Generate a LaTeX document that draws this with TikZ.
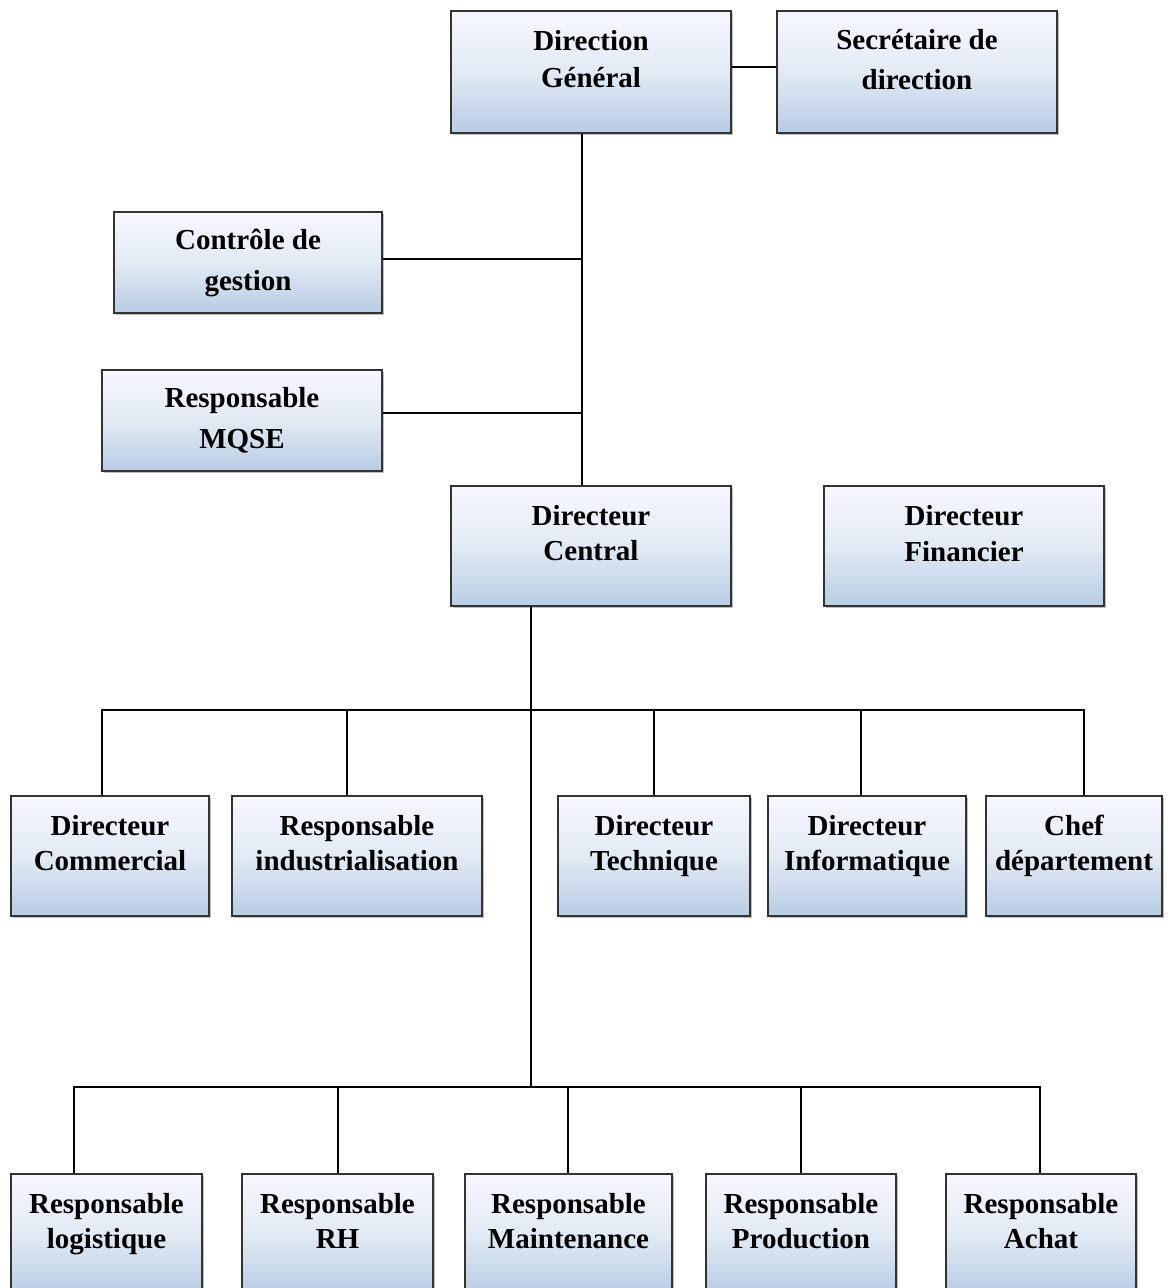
\documentclass[tikz,border=0pt]{standalone}
\usepackage{fontspec}
\setmainfont{Liberation Serif}
\usetikzlibrary{calc,shadows}
\begin{document}
\begin{tikzpicture}[x=1pt,y=1pt,
  box/.style={draw=black!80, line width=1.6pt, top color=white!92!blue!40!white, bottom color={rgb,255:red,184;green,204;blue,228}, middle color={rgb,255:red,226;green,234;blue,244}, shading angle=0, inner sep=0pt, drop shadow={shadow xshift=2pt, shadow yshift=-2pt, opacity=0.25, fill=black}},
  txt/.style={anchor=base, font=\fontsize{29}{36}\selectfont\bfseries, inner sep=0pt},
  ln/.style={line width=1.5pt, black}]
\useasboundingbox (0,0) rectangle (1173,-1288);
\clip (0,0) rectangle (1173,-1288);
% boxes: \bx[baseline1,baseline2]{name}{left}{top}{right}{bottom}{line1}{line2}
\newcommand\bx[7][40/75]{%
  \node[box, minimum width=#4-#2, minimum height=#5-#3] (#2) at ({(#3+#5)/2},{-(#4+#6)/2}) {};
  \foreach \ba/\bb in {#1} {%
    \node[txt] at ($(#2.north)+(0,-\ba)$) {#7};}}
\newcommand\bxtwo[8][40/75]{%
  \node[box, minimum width=#5-#3, minimum height=#6-#4] (#2) at ({(#3+#5)/2},{-(#4+#6)/2}) {};
  \foreach \ba/\bb in {#1} {%
    \node[txt] at ($(#2.north)+(0,-\ba)$) {#7};
    \node[txt] at ($(#2.north)+(0,-\bb)$) {#8};}}
\bxtwo[40/77]{dg}{451}{11}{731}{133}{Direction}{Général}
\bxtwo[39/79]{sec}{777}{11}{1057}{133}{Secrétaire de}{direction}
\bxtwo[38/79]{cg}{114}{212}{382}{313}{Contrôle de}{gestion}
\bxtwo[38/79]{mqse}{102}{370}{382}{471}{Responsable}{MQSE}
\bxtwo{dc}{451}{486}{731}{606}{Directeur}{Central}
\bxtwo[40/76]{df}{824}{486}{1104}{606}{Directeur}{Financier}
\bxtwo{dcom}{11}{796}{209}{916}{Directeur}{Commercial}
\bxtwo{rind}{232}{796}{482}{916}{Responsable}{industrialisation}
\bxtwo{dtech}{558}{796}{750}{916}{Directeur}{Technique}
\bxtwo{dinf}{768}{796}{966}{916}{Directeur}{Informatique}
\bxtwo{chef}{986}{796}{1162}{916}{Chef}{département}
\bxtwo{rlog}{11}{1174}{202}{1294}{Responsable}{logistique}
\bxtwo{rrh}{242}{1174}{433}{1294}{Responsable}{RH}
\bxtwo{rmai}{465}{1174}{672}{1294}{Responsable}{Maintenance}
\bxtwo{rprod}{706}{1174}{896}{1294}{Responsable}{Production}
\bxtwo{rach}{946}{1174}{1136}{1294}{Responsable}{Achat}
% connectors
\coordinate (bus1) at (531,-710);
\coordinate (bus2) at (531,-1087);
\draw[ln] (dg.east |- 0,-67) -- (sec.west |- 0,-67);
\draw[ln] ([xshift=-9pt]dg.south) -- ([xshift=-9pt]dc.north);
\draw[ln] (cg.east |- 0,-259) -- (582,-259);
\draw[ln] (mqse.east |- 0,-413) -- (582,-413);
\draw[ln] (dc.south -| bus1) -- (bus2);
\draw[ln] ([xshift=-8pt]dcom.north) |- (bus1);
\draw[ln] ([xshift=-10pt]rind.north) |- (bus1);
\draw[ln] (dtech.north) |- (bus1);
\draw[ln] ([xshift=-6pt]dinf.north) |- (bus1);
\draw[ln] ([xshift=10pt]chef.north) |- (bus1);
\draw[ln] ([xshift=-32.5pt]rlog.north) |- (bus2);
\draw[ln] ([xshift=0.5pt]rrh.north) |- (bus2);
\draw[ln] ([xshift=-0.5pt]rmai.north) |- (bus2);
\draw[ln] (rprod.north) |- (bus2);
\draw[ln] ([xshift=-1pt]rach.north) |- (bus2);
\end{tikzpicture}
\end{document}
